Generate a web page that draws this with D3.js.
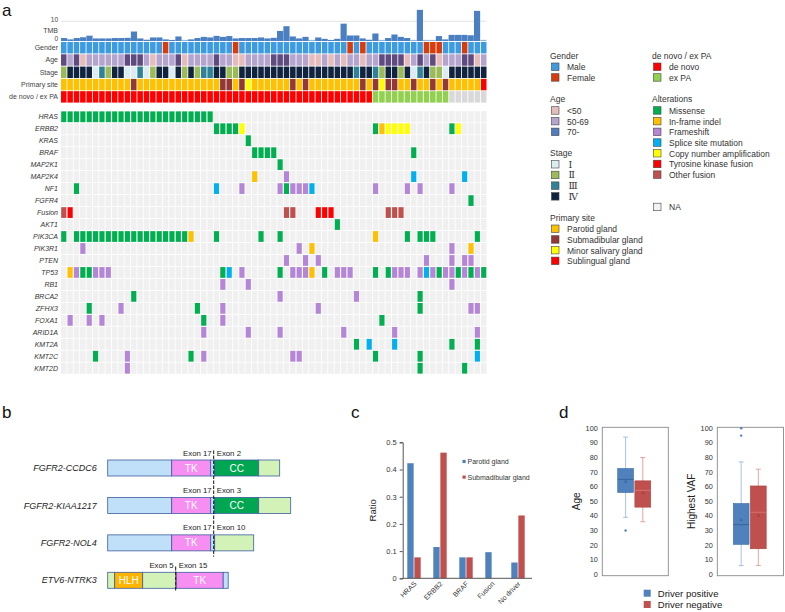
<!DOCTYPE html>
<html>
<head>
<meta charset="utf-8">
<script src="https://cdn.jsdelivr.net/npm/d3@7"></script>
<style>
  body { margin: 0; background: #fff; }
  svg { font-family: "Liberation Sans", Arial, Helvetica, sans-serif; }
</style>
</head>
<body>
<div id="chart"></div>
<script>
// ---------------- data ----------------
// panel a: one character per sample (67 samples), spaces only for reading
const tmb = [1.2, 0.5, 1.2, 1.6, 2.4, 1.0, 1.0, 1.0, 1.2, 1.2,
             1.3, 4.5, 1.0, 0.3, 1.5, 1.5, 0.5, 0.2, 2.0, 0,
             0.5, 1.2, 1.8, 1.5, 2.3, 1.8, 2.2, 1.0, 1.2, 1.2,
             1.2, 1.5, 1.0, 1.3, 4.8, 7.2, 2.0, 1.0, 1.8, 0,
             1.5, 0.8, 0.2, 0.8, 8.5, 2.5, 2.5, 1.0, 0.3, 3.5,
             0, 1.2, 3.0, 1.8, 1.2, 0, 15.5, 0, 0, 2.2,
             0.5, 2.8, 2.8, 2.8, 2.6, 15.0, 0];

const trackNames = ["Gender", "Age", "Stage", "Primary site", "de novo / ex PA"];
const gender = "MMMMMMMMMM MMMMMMFMMM MMMMMMMFMM MMMMMMMMMM MMMMMFMFMM MMMMMMMFFF MMMFMMM";
const age    = "omoymmmmmm ooomymmmoy mmmmommyym mmmooommmy ymymymmymm ooooymomoy mmmooym";
const stage  = "2444413244 1131244142 4233442244 4444444444 4444443443 2442413422 1444444";
const site   = "pppppppppp pspppppppp pppppsspsn ppppppspsp pppppppsps nssppsppsp spppppl";
const origin = "dddddddddd dddddddddd dddddddddd dddddddddd dddddddddx xxxxxxxxxx xnnnnnn";

const geneNames = ["HRAS", "ERBB2", "KRAS", "BRAF", "MAP2K1", "MAP2K4", "NF1", "FGFR4", "Fusion", "AKT1",
                   "PIK3CA", "PIK3R1", "PTEN", "TP53", "RB1", "BRCA2", "ZFHX3", "FOXA1", "ARID1A",
                   "KMT2A", "KMT2C", "KMT2D"];
// M missense, I in-frame indel, F frameshift, S splice, A amplification, T TK fusion, O other fusion
const geneRows = [
  "MMMMMMMMMM MMMMMMMMMM MMMM...... .......... .......... .......... .......",
  ".......... .......... ....MMMMA. .......... .........M IAAAA..... .MA....",
  ".......... .......... .........M .......... .......... .......... .......",
  ".......... .......... .......... MMMM...... .......... .....M.... .......",
  ".......... .......... .......... ....M..... .......... .......... .......",
  ".......... .......... .......... I....F.... .......... .....S.... ...S...",
  "..M....... .......... ....S...F. ....FMFFFS .........F ....F.F... .F.....",
  ".......... .......... .......... .......... .......... .......... ....M..",
  "OT........ .......... .......... .....OO... TTT....... .OOO...... .......",
  ".......... .......... .......... .......... ...M...... .......... .......",
  "M.MMMMMMMM MMMMMMMMMM I...M..... .M..M..... .........I ....M.MMM. .....M.",
  "...F...... .......... .......... .......F.I .......... .......... .F..I..",
  ".......... .......... .......... .....F..F. F......... .......F.. .F.FF..",
  ".IFMMFFF.. .......... .....MS.F. ....M.FFFI .M.FFF...M .MFFF.FSFM FFMFMFM",
  ".......... .......... .....F...F .......... .......... .......... .F.....",
  ".......... .M........ .......... ....F..... ......F... ......M... .......",
  "....M....F .......... .M...F.... .......... F......... ......M... ....FF.",
  ".F..F.F... .......... ..M..F.... .......... .......... M......... .......",
  ".......... .......... ..F......F ....F..... ....F..... ..F....... .....F.",
  ".......... .......... .......... .......... ......M.S. ..S....... .M...M.",
  ".....M.... F......... M.F....... ......FF.. .........M ......M... .....S.",
  ".......... F......... .......... .......... .......... ......M... ...M..."
];

// panel b
const fusionNames = ["FGFR2-CCDC6", "FGFR2-KIAA1217", "FGFR2-NOL4", "ETV6-NTRK3"];
const fusionSegments = [
  [[0, 64, "b"], [64, 103, "TK"], [103, 107, "b"], [107, 151, "CC"], [151, 172, "g"]],
  [[0, 64, "b"], [64, 103, "TK"], [103, 107, "b"], [107, 151, "CC"], [151, 183, "g"]],
  [[0, 64, "b"], [64, 103, "TK"], [103, 107, "b"], [107, 146, "g"]],
  [[0, 7, "g"], [7, 35, "HLH"], [35, 68.5, "g"], [68.5, 115.5, "TK"], [115.5, 120.5, "b"]]
];
const fusionBreaks = [106, 106, 106, 68];
const exonLeft = ["Exon 17", "Exon 17", "Exon 17", "Exon 5"];
const exonRight = ["Exon 2", "Exon 3", "Exon 10", "Exon 15"];

// panel c
const driverCats = ["HRAS", "ERBB2", "BRAF", "Fusion", "No driver"];
const siteGroups = ["Parotid gland", "Submadibular gland"];
const parotidRatio = [0.423, 0.115, 0.077, 0.096, 0.058];
const submandRatio = [0.077, 0.462, 0.077, 0, 0.231];

// panel d
const driverGroups = ["Driver positive", "Driver negative"];
const ageBox = [
  {min: 39, q1: 56, median: 65, q3: 72.5, max: 94, mean: 63.5, outliers: [30]},
  {min: 36, q1: 46, median: 57.5, q3: 64, max: 80, mean: 56, outliers: []}
];
const vafBox = [
  {min: 6, q1: 20.5, median: 34, q3: 48.5, max: 77, mean: 37.5, outliers: [95, 100]},
  {min: 6, q1: 17.5, median: 42.5, q3: 60.5, max: 72, mean: 40, outliers: []}
];

// ---------------- colours ----------------
const genderColor = {M: "#3d9be2", F: "#d83c0c"};
const ageColor = {y: "#e6bcbb", m: "#b4a5cf", o: "#5f4b7f"};
const stageColor = {"1": "#dcecf3", "2": "#9bbb59", "3": "#2f8298", "4": "#10233f"};
const siteColor = {p: "#ffc000", s: "#953735", n: "#ffff00", l: "#ff0000"};
const originColor = {d: "#ff0000", x: "#92d050", n: "#d9d9d9"};
const trackColors = [genderColor, ageColor, stageColor, siteColor, originColor];
const altColor = {M: "#00b050", I: "#ffc000", F: "#b586d8", S: "#00b0f0", A: "#ffff00", T: "#ff0000", O: "#c0504d"};
const segColor = {b: "#bfe0f8", g: "#d3f2b8", TK: "#f78ef1", CC: "#00a651", HLH: "#ffb400"};
const blue = "#4f81bd", red = "#c0504d";

const clean = s => s.replace(/ /g, "").split("");

const svg = d3.select("#chart").append("svg")
  .attr("width", 785).attr("height", 612);

// panel letters
[["a", 2, 16], ["b", 2, 418], ["c", 351, 418], ["d", 559, 418]].forEach(([t, px, py]) => {
  svg.append("text").attr("x", px).attr("y", py).attr("font-size", 17).attr("fill", "#111").text(t);
});

// ================= panel a =================
const nCols = tmb.length;
const x = d3.scaleBand().domain(d3.range(nCols)).range([61, 486.5]).paddingInner(0.13);
const xb = d3.scaleBand().domain(d3.range(nCols)).range([61, 486.5]).paddingInner(0.03);

// TMB bars
const yT = d3.scaleLinear().domain([0, 10]).range([41, 21.3]);
svg.append("line").attr("x1", 61).attr("x2", 486.5).attr("y1", yT(10)).attr("y2", yT(10))
  .attr("stroke", "#dcdcdc").attr("stroke-width", 0.8);
svg.append("line").attr("x1", 61).attr("x2", 486.5).attr("y1", yT(0) - 1.5).attr("y2", yT(0) - 1.5)
  .attr("stroke", "#ececec").attr("stroke-width", 0.6);
svg.append("g").selectAll("rect").data(tmb).join("rect")
  .attr("x", (d, i) => xb(i)).attr("width", xb.bandwidth())
  .attr("y", d => yT(d) - 0.6).attr("height", d => yT(0) - yT(d) + 0.6)
  .attr("fill", "#4a7fc2");
svg.append("g").selectAll("text").data([0, 10]).join("text")
  .attr("x", 58).attr("y", d => yT(d) - 1.8).attr("dy", "0.35em")
  .attr("text-anchor", "end").attr("font-size", 6.5).attr("fill", "#444").text(d => d);
svg.append("text").attr("x", 58).attr("y", 30.5).attr("dy", "0.35em").attr("text-anchor", "end")
  .attr("font-size", 7).attr("fill", "#444").text("TMB");

// clinical tracks
const yTrack = d3.scaleBand().domain(trackNames).range([42, 102.6]).paddingInner(0.07);
[gender, age, stage, site, origin].forEach((row, k) => {
  svg.append("g").selectAll("rect").data(clean(row)).join("rect")
    .attr("x", (d, i) => x(i)).attr("width", x.bandwidth())
    .attr("y", yTrack(trackNames[k])).attr("height", yTrack.bandwidth())
    .attr("fill", d => trackColors[k][d]);
});
svg.append("g").selectAll("text").data(trackNames).join("text")
  .attr("x", 58).attr("y", d => yTrack(d) + yTrack.bandwidth() / 2).attr("dy", "0.35em")
  .attr("text-anchor", "end").attr("font-size", 7).attr("fill", "#444").text(d => d);

// gene rows
const yGene = d3.scaleBand().domain(geneNames).range([111.2, 373.8]).paddingInner(0.07);
geneRows.forEach((row, k) => {
  const g = svg.append("g");
  g.selectAll("rect.bg").data(d3.range(nCols)).join("rect").attr("class", "bg")
    .attr("x", i => x(i)).attr("width", x.bandwidth())
    .attr("y", yGene(geneNames[k])).attr("height", yGene.bandwidth())
    .attr("fill", "#f0f0f0");
  g.selectAll("rect.alt").data(clean(row).map((c, i) => ({c, i})).filter(d => d.c !== "."))
    .join("rect").attr("class", "alt")
    .attr("x", d => x(d.i) + 0.2).attr("width", x.bandwidth() - 0.4)
    .attr("y", yGene(geneNames[k]) + 0.2).attr("height", yGene.bandwidth() - 0.4)
    .attr("fill", d => altColor[d.c]);
});
svg.append("g").selectAll("text").data(geneNames).join("text")
  .attr("x", 58).attr("y", d => yGene(d) + yGene.bandwidth() / 2).attr("dy", "0.35em")
  .attr("text-anchor", "end").attr("font-size", 7).attr("font-style", "italic")
  .attr("fill", "#333").text(d => d);

// legend
const legendGroups = [
  {title: "Gender", x: 550, y: 58.5, items: [["Male", genderColor.M], ["Female", genderColor.F]]},
  {title: "Age", x: 550, y: 102.2, items: [["<50", ageColor.y], ["50-69", ageColor.m], ["70-", "#4f7dbd"]]},
  {title: "Stage", x: 550, y: 156, roman: true,
   items: [["Ⅰ", stageColor["1"]], ["Ⅱ", stageColor["2"]], ["Ⅲ", stageColor["3"]], ["Ⅳ", stageColor["4"]]]},
  {title: "Primary site", x: 550, y: 220.5,
   items: [["Parotid gland", siteColor.p], ["Submadibular gland", siteColor.s],
           ["Minor salivary gland", siteColor.n], ["Sublingual gland", siteColor.l]]},
  {title: "de novo / ex PA", x: 652, y: 58.5, items: [["de novo", originColor.d], ["ex PA", originColor.x]]},
  {title: "Alterations", x: 652, y: 102.2,
   items: [["Missense", altColor.M], ["In-frame indel", altColor.I], ["Frameshift", altColor.F],
           ["Splice site mutation", altColor.S], ["Copy number amplification", altColor.A],
           ["Tyrosine kinase fusion", altColor.T], ["Other fusion", altColor.O]]},
  {title: "", x: 652, y: 198.7, items: [["NA", "#f2f2f2"]]}
];
legendGroups.forEach(grp => {
  const g = svg.append("g").attr("transform", `translate(${grp.x},${grp.y})`);
  g.append("text").attr("font-size", 8.5).attr("fill", "#333").text(grp.title);
  const it = g.selectAll("g").data(grp.items).join("g")
    .attr("transform", (d, i) => `translate(1.5,${4.5 + i * 10.7})`);
  it.append("rect").attr("width", 7.5).attr("height", 7.5)
    .attr("fill", d => d[1]).attr("stroke", "#444").attr("stroke-width", 0.6);
  it.append("text").attr("x", grp.roman ? 17 : 15.5).attr("y", 7.2)
    .attr("font-size", grp.roman ? 9.5 : 8.5).attr("fill", "#333")
    .attr("font-family", grp.roman ? "'DejaVu Serif', serif" : null)
    .text(d => d[0]);
});

// ================= panel b =================
const fx = d3.scaleLinear().domain([0, 183]).range([107.7, 290.7]);
const fy = d3.scalePoint().domain(fusionNames).range([468, 580.3]);
const barH = 16;
fusionNames.forEach((name, k) => {
  const g = svg.append("g").attr("transform", `translate(0,${fy(name) - barH / 2})`);
  g.selectAll("rect").data(fusionSegments[k]).join("rect")
    .attr("x", d => fx(d[0])).attr("width", d => fx(d[1]) - fx(d[0]))
    .attr("height", barH).attr("fill", d => segColor[d[2]])
    .attr("stroke", "#3d5c9e").attr("stroke-width", 0.8);
  g.selectAll("text.dom").data(fusionSegments[k].filter(d => d[2].length > 1)).join("text")
    .attr("class", "dom").attr("x", d => (fx(d[0]) + fx(d[1])) / 2).attr("y", barH / 2)
    .attr("dy", "0.36em").attr("text-anchor", "middle").attr("font-size", 10)
    .attr("fill", "#fff").text(d => d[2]);
  const bx = fx(fusionBreaks[k]);
  g.append("text").attr("x", bx - 2).attr("y", -4.5).attr("text-anchor", "end")
    .attr("font-size", 7.8).attr("fill", "#222").text(exonLeft[k]);
  g.append("text").attr("x", bx + 3).attr("y", -4.5)
    .attr("font-size", 7.8).attr("fill", "#222").text(exonRight[k]);
  svg.append("text").attr("x", 96.7).attr("y", fy(name)).attr("dy", "0.35em")
    .attr("text-anchor", "end").attr("font-size", 9).attr("font-style", "italic")
    .attr("fill", "#222").text(name);
});
svg.append("line").attr("x1", fx(106)).attr("x2", fx(106)).attr("y1", 450.5).attr("y2", 556.7)
  .attr("stroke", "#111").attr("stroke-width", 1).attr("stroke-dasharray", "3.5,1.5");
svg.append("line").attr("x1", fx(68)).attr("x2", fx(68)).attr("y1", 566.5).attr("y2", 591)
  .attr("stroke", "#111").attr("stroke-width", 1).attr("stroke-dasharray", "4,1");

// ================= panel c =================
const cx = d3.scaleBand().domain(driverCats).range([401, 531]).paddingInner(0.485).paddingOuter(0.2425);
const csub = d3.scaleBand().domain(siteGroups).range([0, cx.bandwidth()]).paddingInner(0.1);
const cy = d3.scaleLinear().domain([0, 0.5]).range([578.3, 442.3]);
const cData = driverCats.map((c, i) => ({c, vals: [parotidRatio[i], submandRatio[i]]}));
const cg = svg.append("g");
cg.selectAll("g.cat").data(cData).join("g").attr("class", "cat")
  .attr("transform", d => `translate(${cx(d.c)},0)`)
  .selectAll("rect").data(d => d.vals.map((v, j) => ({v, s: siteGroups[j]}))).join("rect")
  .attr("x", d => csub(d.s)).attr("width", csub.bandwidth())
  .attr("y", d => cy(d.v)).attr("height", d => cy(0) - cy(d.v))
  .attr("fill", d => d.s === siteGroups[0] ? blue : red);
const cAxis = cg.append("g").attr("transform", "translate(402.7,0)")
  .call(d3.axisLeft(cy).tickValues([0, 0.1, 0.2, 0.3, 0.4, 0.5]).tickSize(3)
    .tickFormat(d => d === 0 ? "0" : d3.format(".1f")(d)));
cAxis.selectAll("text").attr("font-size", 7.5).attr("fill", "#333");
cAxis.selectAll("line,path").attr("stroke", "#555");
cg.append("line").attr("x1", 402.7).attr("x2", 532).attr("y1", cy(0)).attr("y2", cy(0))
  .attr("stroke", "#555");
cg.selectAll("text.xl").data(driverCats).join("text").attr("class", "xl")
  .attr("transform", d => `translate(${cx(d) + cx.bandwidth() / 2 + 3},${cy(0) + 6}) rotate(-45)`)
  .attr("text-anchor", "end").attr("font-size", 7).attr("fill", "#333").text(d => d);
cg.append("text").attr("transform", `translate(376,${(cy(0) + cy(0.5)) / 2}) rotate(-90)`)
  .attr("text-anchor", "middle").attr("font-size", 9.5).attr("fill", "#222").text("Ratio");
const cLeg = cg.selectAll("g.leg").data(siteGroups).join("g").attr("class", "leg")
  .attr("transform", (d, i) => `translate(462.5,${461.5 + i * 15.6})`);
cLeg.append("rect").attr("y", -1.6).attr("width", 3.2).attr("height", 3.2)
  .attr("fill", (d, i) => i === 0 ? blue : red);
cLeg.append("text").attr("x", 5).attr("dy", "0.35em").attr("font-size", 7)
  .attr("fill", "#333").text(d => d);

// ================= panel d =================
function boxPanel(stats, left, right, bandRange, title, titleX) {
  const yy = d3.scaleLinear().domain([0, 100]).range([574.3, 428.3]);
  const bx = d3.scaleBand().domain(driverGroups).range(bandRange).paddingInner(0.08);
  const g = svg.append("g");
  g.append("rect").attr("x", left).attr("y", 427.3).attr("width", right - left).attr("height", 148.4)
    .attr("fill", "none").attr("stroke", "#8a8a8a").attr("stroke-width", 0.9);
  g.selectAll("text.tk").data(d3.range(0, 101, 10)).join("text").attr("class", "tk")
    .attr("x", left - 4.5).attr("y", d => yy(d)).attr("dy", "0.35em").attr("text-anchor", "end")
    .attr("font-size", 7.3).attr("fill", "#333").text(d => d);
  g.append("text").attr("transform", `translate(${titleX},${yy(50)}) rotate(-90)`)
    .attr("text-anchor", "middle").attr("font-size", 10).attr("fill", "#222").text(title);
  stats.forEach((s, j) => {
    const x0 = bx(driverGroups[j]), w = bx.bandwidth(), xc = x0 + w / 2;
    const col = j === 0 ? blue : red;
    const light = j === 0 ? "#9dbbe2" : "#df9c9a";
    g.append("line").attr("x1", xc).attr("x2", xc).attr("y1", yy(s.max)).attr("y2", yy(s.min))
      .attr("stroke", light).attr("stroke-width", 0.9);
    [s.max, s.min].forEach(v => g.append("line").attr("x1", xc - 2.5).attr("x2", xc + 2.5)
      .attr("y1", yy(v)).attr("y2", yy(v)).attr("stroke", light).attr("stroke-width", 0.9));
    g.append("rect").attr("x", x0).attr("width", w).attr("y", yy(s.q3))
      .attr("height", yy(s.q1) - yy(s.q3)).attr("fill", col)
      .attr("stroke", j === 0 ? "#3e6ea8" : "#a8403d").attr("stroke-width", 0.6);
    g.append("line").attr("x1", x0).attr("x2", x0 + w).attr("y1", yy(s.median)).attr("y2", yy(s.median))
      .attr("stroke", j === 0 ? "#2f5d96" : "#d97a78").attr("stroke-width", 0.8);
    g.append("text").attr("x", xc).attr("y", yy(s.mean)).attr("dy", "0.33em")
      .attr("text-anchor", "middle").attr("font-size", 6.5)
      .attr("fill", j === 0 ? "#2c5a92" : "#9c3532").text("×");
    g.selectAll(null).data(s.outliers).join("circle")
      .attr("cx", xc).attr("cy", d => yy(d)).attr("r", 1.2).attr("fill", col);
  });
}
boxPanel(ageBox, 602.3, 668.3, [617.7, 650.7], "Age", 579.5);
boxPanel(vafBox, 717.3, 783.5, [733.3, 766.2], "Highest VAF", 695);

const dLeg = svg.append("g").selectAll("g").data(driverGroups).join("g")
  .attr("transform", (d, i) => `translate(643.7,${589.7 + i * 11.3})`);
dLeg.append("rect").attr("width", 7).attr("height", 7).attr("fill", (d, i) => i === 0 ? blue : red);
dLeg.append("text").attr("x", 14).attr("y", 3.6).attr("dy", "0.36em").attr("font-size", 9.6)
  .attr("fill", "#222").text(d => d);
</script>
</body>
</html>
